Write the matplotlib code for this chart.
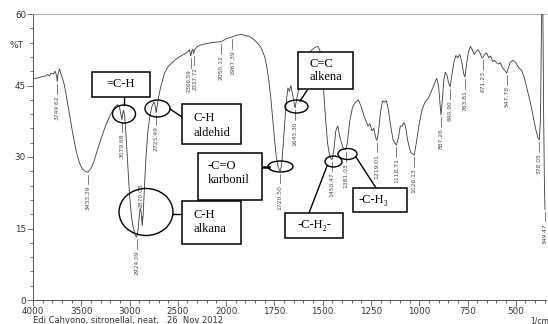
import numpy as np
import matplotlib
matplotlib.use("Agg")
import matplotlib.pyplot as plt
from matplotlib.patches import Rectangle, Ellipse
from matplotlib.ticker import FixedLocator, NullFormatter

# ---------------- data ----------------
wavenumber = [4000, 3950, 3900, 3870, 3850, 3830, 3810, 3790, 3770, 3755, 3749, 3740,
              3725, 3712, 3700, 3680, 3660, 3640, 3610, 3580, 3550, 3520, 3490, 3460,
              3433, 3400, 3370, 3340, 3300, 3250, 3200, 3160, 3125, 3105, 3090, 3079,
              3070, 3062, 3050, 3035, 3020, 3000, 2980, 2960, 2940, 2926, 2910, 2900,
              2890, 2880, 2870, 2860, 2845, 2830, 2810, 2790, 2770, 2750, 2738, 2725,
              2715, 2700, 2680, 2660, 2640, 2600, 2550, 2500, 2450, 2400, 2380, 2370,
              2366, 2355, 2345, 2337, 2325, 2300, 2250, 2200, 2150, 2100, 2050, 2000,
              1967, 1940, 1920, 1900, 1880, 1860, 1840, 1820, 1800, 1790, 1780, 1770,
              1760, 1750, 1740, 1730, 1720, 1712, 1700, 1690, 1680, 1672, 1665, 1655,
              1643, 1630, 1610, 1590, 1560, 1540, 1525, 1515, 1505, 1495, 1485, 1475,
              1465, 1455, 1450, 1442, 1432, 1422, 1410, 1395, 1381, 1372, 1360, 1345,
              1330, 1315, 1300, 1285, 1265, 1255, 1245, 1235, 1225, 1219, 1212, 1200,
              1190, 1180, 1170, 1160, 1150, 1135, 1118, 1108, 1098, 1088, 1080, 1072,
              1060, 1045, 1026, 1015, 1000, 985, 970, 955, 940, 925, 910, 900, 892, 887,
              880, 873, 865, 855, 848, 840, 832, 820, 810, 800, 790, 780, 770, 763, 755,
              745, 735, 725, 715, 705, 695, 685, 675, 671, 660, 650, 640, 630, 620, 610,
              600, 590, 580, 570, 560, 547, 540, 530, 515, 500, 485, 470, 455, 440, 425,
              410, 395, 385, 378, 372, 366, 360, 356, 352, 349]
transmittance = [46.4, 46.6, 46.9, 47.0, 47.3, 47.0, 47.6, 47.4, 48.0, 47.0, 45.8, 47.5,
                 48.5, 47.5, 46.8, 45.5, 43.5, 41.0, 37.5, 34.0, 31.0, 28.8, 27.5, 27.0,
                 26.8, 27.6, 29.0, 31.0, 33.5, 36.5, 38.8, 40.3, 41.0, 40.5, 39.0, 37.8,
                 39.3, 39.8, 38.5, 34.0, 29.0, 22.0, 17.5, 15.0, 13.5, 13.2, 15.0, 17.5,
                 19.2, 18.5, 15.8, 17.5, 24.0, 30.0, 35.5, 38.5, 40.5, 41.5, 41.2, 39.3,
                 40.5, 42.5, 44.5, 46.0, 47.5, 49.0, 50.0, 50.8, 51.4, 52.0, 52.5, 51.6,
                 51.2, 52.3, 52.6, 51.7, 52.5, 53.2, 53.6, 53.8, 54.0, 54.1, 54.2, 54.8,
                 55.2, 55.6, 55.7, 55.5, 55.3, 54.8, 54.0, 53.0, 51.0, 49.0, 46.5, 43.0,
                 38.5, 34.0, 30.0, 27.8, 27.0, 28.5, 35.0, 41.0, 44.5, 43.8, 45.0, 43.0,
                 40.3, 43.0, 47.0, 50.0, 52.3, 53.0, 53.2, 52.5, 49.0, 44.0, 38.0, 33.0,
                 30.5, 29.5, 29.6, 31.5, 35.5, 36.5, 34.0, 32.0, 31.5, 33.0, 37.5, 40.5,
                 41.5, 42.0, 40.5, 38.5, 36.5, 37.0, 35.5, 36.0, 34.0, 33.5, 35.0, 39.5,
                 41.8, 41.5, 41.8, 40.0, 37.0, 33.5, 32.5, 34.0, 36.5, 36.5, 37.2, 36.6,
                 33.5, 31.0, 30.4, 33.0, 37.0, 40.0, 41.5, 42.2, 43.5, 45.0, 46.5, 45.0,
                 41.0, 38.8, 42.0, 46.0, 47.8, 47.0, 45.5, 44.7, 47.0, 50.0, 51.3, 50.8,
                 51.5, 50.0, 47.5, 46.8, 49.5, 52.0, 53.2, 52.5, 51.5, 52.2, 52.5, 51.8,
                 50.8, 50.8, 51.6, 51.8, 50.8, 51.2, 50.0, 50.3, 49.8, 49.5, 49.8, 48.8,
                 48.3, 47.6, 48.5, 49.8, 50.3, 49.8, 48.7, 48.2, 46.5, 44.0, 41.5, 38.5,
                 35.5, 34.0, 33.6, 38.0, 62.0, 62.0, 40.0, 25.0, 19.0]

peak_labels = ["3749.62", "3433.29", "3079.68", "2924.09", "2870.08", "2725.49",
               "2366.59", "2337.72", "2050.12", "1967.39", "1720.50", "1643.30",
               "1450.47", "1381.03", "1219.01", "1118.71", "1026.13", "887.26",
               "840.90", "763.81", "671.23", "547.78", "378.05", "349.47"]
peak_T = [45.3, 26.3, 37.3, 12.7, 19.8, 38.8, 50.7, 51.2, 53.7, 54.7, 26.5, 39.8,
          29.0, 31.0, 33.0, 32.0, 29.9, 38.3, 44.2, 46.3, 50.3, 47.1, 33.1, 18.5]

x_major = [4000, 3500, 3000, 2500, 2000, 1750, 1500, 1250, 1000, 750, 500]
y_major = [0, 15, 30, 45, 60]

# ---------------- figure ----------------
W, H = 548, 324
fig = plt.figure(figsize=(W / 100, H / 100), dpi=100)
ax = fig.add_axes([33 / W, 1 - 300 / H, 513.3 / W, 286 / H])

def fwd(w):
    w = np.asarray(w, dtype=float)
    return np.where(w > 2000, 2000 + (w - 2000) / 2.0, w)

def inv(u):
    u = np.asarray(u, dtype=float)
    return np.where(u > 2000, 2000 + (u - 2000) * 2.0, u)

ax.set_xscale('function', functions=(fwd, inv))
ax.plot(wavenumber, transmittance, color='#3a3a3a', lw=0.6, zorder=3)
ax.set_xlim(4000, 342)
ax.set_ylim(0, 60)

# peak labels
tc = '#4a4a4a'
nudge = {"2366.59": 14, "2337.72": -14}
for lab, t in zip(peak_labels, peak_T):
    w = float(lab)
    if lab == "2870.08":
        ax.plot([w, w], [t - 4.0, t - 2.2], color=tc, lw=0.5, zorder=3)
        ax.text(w + 8, t - 0.5, lab, rotation=90, ha='center', va='bottom',
                fontsize=4.3, color=tc, zorder=4)
        continue
    ax.plot([w, w], [t, t - 2.0], color=tc, lw=0.5, zorder=3)
    ax.text(w + nudge.get(lab, 0), t - 2.3, lab, rotation=90, ha='center', va='top',
            fontsize=4.0 if lab in nudge else 4.3, color=tc, zorder=4)

# ticks
minor_x = [v for v in range(3900, 2000, -100) if v not in x_major] + \
          [v for v in range(1950, 340, -50) if v not in x_major]
ax.xaxis.set_major_locator(FixedLocator(x_major))
ax.xaxis.set_minor_locator(FixedLocator(minor_x))
ax.xaxis.set_minor_formatter(NullFormatter())
ax.set_xticklabels([str(v) for v in x_major])
ax.yaxis.set_major_locator(FixedLocator(y_major))
ax.yaxis.set_minor_locator(FixedLocator([v for v in range(0, 61, 3) if v not in y_major]))
ax.set_yticklabels([str(v) for v in y_major])
ax.tick_params(which='major', direction='out', length=4, width=0.6, color='#555',
               labelsize=6.3, labelcolor='#333', pad=1.0)
ax.tick_params(which='minor', direction='out', length=2.5, width=0.6, color='#555')
for s in ['left', 'bottom']:
    ax.spines[s].set_color('#555')
    ax.spines[s].set_linewidth(0.7)
ax.spines['top'].set_color('#b0b0b0')
ax.spines['top'].set_linewidth(0.8)
ax.spines['right'].set_visible(False)
ax.patch.set_alpha(0)

fig.text(10 / W, 1 - 46 / H, '%T', fontsize=6.5, color='#333', ha='left', va='center')
fig.text(33 / W, 1 - 320.5 / H, 'Edi Cahyono, sitronellal, neat,   26  Nov 2012',
         fontsize=6.0, color='#333', ha='left', va='center')
fig.text(530 / W, 1 - 320.5 / H, '1/cm', fontsize=5.5, color='#333', ha='left', va='center')

# ---------------- annotation overlay (pixel coords) ----------------
ov = fig.add_axes([0, 0, 1, 1], zorder=5)
ov.set_xlim(0, W)
ov.set_ylim(H, 0)
ov.axis('off')
ov.patch.set_alpha(0)

serif = ['Liberation Serif', 'DejaVu Serif']

def box(x0, y0, x1, y1):
    ov.add_patch(Rectangle((x0, y0), x1 - x0, y1 - y0, facecolor='white',
                           edgecolor='black', lw=1.1, zorder=6))

def ell(cx, cy, w, h):
    ov.add_patch(Ellipse((cx, cy), w, h, facecolor='none', edgecolor='black',
                         lw=1.0, zorder=6))

def line(x0, y0, x1, y1, lw=1.0):
    ov.plot([x0, x1], [y0, y1], color='black', lw=lw, zorder=5.5)

def txt(x, y, s, ha='left'):
    ov.text(x, y, s, fontsize=9, family=serif, ha=ha, va='center', zorder=7)

# =C-H
line(124, 97, 124, 105)
box(92, 72, 150, 97)
ell(124, 114, 23, 18)
txt(121, 84, '=C-H', ha='center')

# C-H aldehid
line(170, 109, 182, 117)
box(182, 104, 241, 144)
ell(157.5, 108.5, 25, 17)
txt(193, 118, 'C-H')
txt(193, 133, 'aldehid')

# C-H alkana
line(173, 214, 182, 214)
box(182, 201, 241, 244)
ell(146, 212, 54, 47)
txt(193, 215, 'C-H')
txt(193, 229, 'alkana')

# -C=O karbonil
line(262, 167, 269, 167, lw=1.8)
box(198, 153, 262, 200)
ell(280.5, 166.5, 25, 11)
txt(208, 166, '-C=O')
txt(208, 180, 'karbonil')

# C=C alkena
line(300, 101, 308, 89)
box(298, 52, 353, 89)
ell(296.5, 106.5, 23, 13)
txt(309, 64, 'C=C')
txt(309, 77, 'alkena')

# -C-H2-
line(327, 166, 309, 213)
box(285, 213, 343, 238)
ell(333.5, 161.5, 17, 11)
txt(314, 225, '-C-H\u2082-', ha='center')

# -C-H3
line(356, 157, 376, 188)
box(353, 188, 407, 212)
ell(347.5, 154, 19, 11)
txt(359, 200, '-C-H\u2083')

fig.savefig('out.png', dpi=100)
